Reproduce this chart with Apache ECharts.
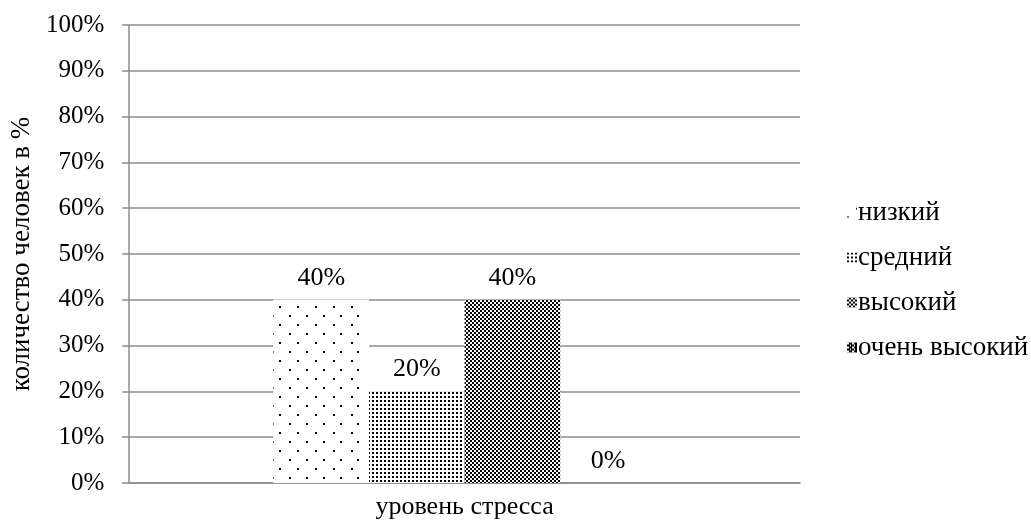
<!DOCTYPE html>
<html><head><meta charset="utf-8">
<script src="https://cdn.jsdelivr.net/npm/echarts@6/dist/echarts.min.js"></script>
<style>html,body{margin:0;padding:0;background:#fff}#c{width:1031px;height:520px}</style>
</head><body><div id="c"></div>
<script>
const categories = ['уровень стресса'];
const seriesNames = ['низкий', 'средний', 'высокий', 'очень высокий'];
const values = [40, 20, 40, 0];
const yTicks = [0, 10, 20, 30, 40, 50, 60, 70, 80, 90, 100];

const FONT = '"Liberation Serif", "Times New Roman", serif';
const decals = [
  { symbol: 'rect', symbolSize: 1, color: '#000', backgroundColor: '#fff',
    dashArrayX: [[2, 15], [0, 8.5, 2, 6.5]], dashArrayY: [2, 6.7] },
  { symbol: 'rect', symbolSize: 1, color: '#000', backgroundColor: '#fff',
    dashArrayX: [2, 2], dashArrayY: [2, 1.2] },
  { symbol: 'rect', symbolSize: 1, color: '#000', backgroundColor: '#fff',
    dashArrayX: [[2, 2], [0, 2, 2, 0]], dashArrayY: [2, 0] },
  { symbol: 'rect', symbolSize: 1, color: '#000', backgroundColor: '#fff',
    dashArrayX: [[3, 1], [0, 2, 3, 0]], dashArrayY: [2, 0] }
];

const chart = echarts.init(document.getElementById('c'), null, { renderer: 'canvas' });
chart.setOption({
  animation: false,
  textStyle: { fontFamily: FONT },
  grid: { left: 127, right: 231, top: 25, bottom: 33, containLabel: false },
  legend: {
    orient: 'vertical', left: 842, top: 194,
    itemWidth: 10, itemHeight: 10, itemGap: 18,
    icon: 'rect',
    textStyle: { fontFamily: FONT, fontSize: 27, color: '#000', padding: [0, 0, 0, -4] },
    data: seriesNames
  },
  xAxis: {
    type: 'category', data: categories,
    axisLine: { show: true, lineStyle: { color: '#8c8c8c', width: 1.5 } },
    axisTick: { show: false },
    axisLabel: { fontFamily: FONT, fontSize: 26, color: '#000', margin: 11 }
  },
  yAxis: {
    type: 'value', min: 0, max: 100, interval: 10,
    name: 'количество человек в %', nameLocation: 'middle', nameGap: 92,
    nameTextStyle: { fontFamily: FONT, fontSize: 27, color: '#000' },
    axisLine: { show: true, lineStyle: { color: '#8c8c8c', width: 1.5 } },
    axisTick: { show: true, length: 7, lineStyle: { color: '#8c8c8c', width: 1.5 } },
    splitLine: { lineStyle: { color: '#8c8c8c', width: 1.5 } },
    axisLabel: { fontFamily: FONT, fontSize: 25, color: '#000', margin: 25,
      formatter: v => yTicks.includes(v) ? v + '%' : '' }
  },
  series: seriesNames.map((n, i) => ({
    name: n, type: 'bar', data: [values[i]],
    barGap: '0%', barCategoryGap: '43%',
    itemStyle: { color: '#fff', decal: decals[i] },
    label: { show: true, position: 'top', distance: 9, formatter: '{c}%',
      fontFamily: FONT, fontSize: 26, color: '#000' }
  }))
});
</script></body></html>
